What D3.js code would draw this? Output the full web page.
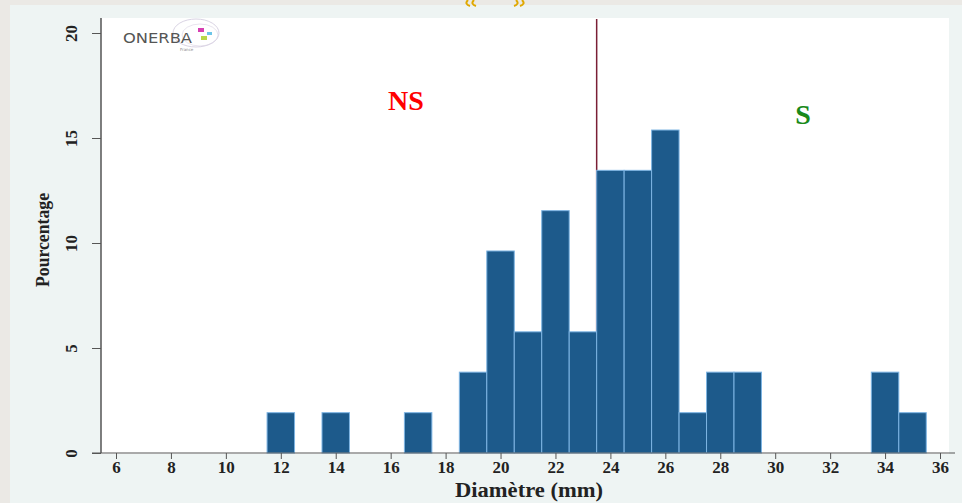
<!DOCTYPE html>
<html>
<head>
<meta charset="utf-8">
<script src="https://cdn.jsdelivr.net/npm/d3@7"></script>
<style>
  html, body { margin: 0; padding: 0; background: #ebe9e5; }
  svg { display: block; }
  .tick-label { font-family: "Liberation Serif", "DejaVu Serif", serif; font-weight: bold; font-size: 17px; fill: #222; }
</style>
</head>
<body>
<svg></svg>
<script>
const width = 962;
const height = 503;

// histogram bins (1 mm wide, centred on the diameter) and their percentage
const diameters = [12, 14, 17, 19, 20, 21, 22, 23, 24, 25, 26, 27, 28, 29, 34, 35];
const percentages = [1.92, 1.92, 1.92, 3.85, 9.62, 5.77, 11.54, 5.77, 13.46, 13.46, 15.38, 1.92, 3.85, 3.85, 3.85, 1.92];
const xTicks = [6, 8, 10, 12, 14, 16, 18, 20, 22, 24, 26, 28, 30, 32, 34, 36];
const yTicks = [0, 5, 10, 15, 20];
const cutoff = 23.5; // NS / S breakpoint

const svg = d3.select('svg').attr('width', width).attr('height', height);

// slide frame + panel
svg.append('rect').attr('x', 0).attr('y', 0).attr('width', width).attr('height', height).attr('fill', '#ebe9e5');
svg.append('rect').attr('x', 10).attr('y', 5).attr('width', width - 10).attr('height', height - 5).attr('fill', '#eef4f3');
svg.append('rect').attr('x', 101).attr('y', 18).attr('width', 848).attr('height', 436).attr('fill', '#ffffff');
// little yellow mark peeking at the top of the slide
const arcs = svg.append('g').attr('fill', 'none').attr('stroke', '#e0a800').attr('stroke-width', 2);
arcs.append('path').attr('d', 'M468,0 Q464,4 470,6');
arcs.append('path').attr('d', 'M474,0 Q470,4 476,6');
arcs.append('path').attr('d', 'M516,0 Q520,4 514,6');
arcs.append('path').attr('d', 'M522,0 Q526,4 520,6');

const x = d3.scaleLinear().domain([6, 36]).range([116, 940]);
const y = d3.scaleLinear().domain([0, 20]).range([453, 33]);

// cutoff line (behind bars)
svg.append('line')
    .attr('x1', x(cutoff)).attr('x2', x(cutoff))
    .attr('y1', 19).attr('y2', y(0))
    .attr('stroke', '#7a1f35').attr('stroke-width', 1.5);

const bins = diameters.map((d, i) => ({d, p: percentages[i]}));
svg.append('g').classed('bars', true)
    .selectAll('rect')
    .data(bins)
    .join('rect')
    .attr('x', d => x(d.d - 0.5))
    .attr('width', d => x(d.d + 0.5) - x(d.d - 0.5))
    .attr('y', d => y(d.p))
    .attr('height', d => y(0) - y(d.p))
    .attr('fill', '#1d5a8b')
    .attr('stroke', '#7db4e3')
    .attr('stroke-width', 1);

// x axis
const xAxis = svg.append('g').attr('transform', `translate(0,${y(0)})`)
    .call(d3.axisBottom(x).tickValues(xTicks).tickSize(6).tickSizeOuter(0).tickPadding(2));
xAxis.select('.domain').attr('d', `M92,0H955`).attr('stroke', '#555');
xAxis.selectAll('.tick line').attr('stroke', '#555');
xAxis.selectAll('.tick text').attr('class', 'tick-label');

// y axis
const yAxis = svg.append('g').attr('transform', 'translate(101,0)')
    .call(d3.axisLeft(y).tickValues(yTicks).tickSize(9).tickSizeOuter(0));
yAxis.select('.domain').attr('d', `M0,18V${y(0)}`).attr('stroke', '#555').attr('stroke-width', 1.5);
yAxis.selectAll('.tick line').attr('stroke', '#555');
yAxis.selectAll('.tick text')
    .attr('class', 'tick-label')
    .attr('x', null)
    .attr('text-anchor', 'middle')
    .attr('transform', 'translate(-30,0) rotate(-90)')
    .attr('dy', '0.35em');

// axis titles
svg.append('text')
    .attr('x', 529).attr('y', 497).attr('text-anchor', 'middle')
    .attr('textLength', 148).attr('lengthAdjust', 'spacingAndGlyphs')
    .style('font-family', 'Liberation Serif, serif').style('font-size', '20px').style('font-weight', 'bold').style('fill', '#222')
    .text('Diamètre (mm)');
svg.append('text')
    .attr('transform', 'translate(49,240) rotate(-90)').attr('text-anchor', 'middle')
    .attr('textLength', 94).attr('lengthAdjust', 'spacingAndGlyphs')
    .style('font-family', 'Liberation Serif, serif').style('font-size', '18px').style('font-weight', 'bold').style('fill', '#222')
    .text('Pourcentage');

// NS / S annotations
svg.append('text').attr('x', 406).attr('y', 110).attr('text-anchor', 'middle')
    .style('font-family', 'Liberation Serif, serif').style('font-size', '28px').style('font-weight', 'bold').style('fill', '#ff0000')
    .text('NS');
svg.append('text').attr('x', 803).attr('y', 124).attr('text-anchor', 'middle')
    .style('font-family', 'Liberation Serif, serif').style('font-size', '28px').style('font-weight', 'bold').style('fill', '#1a8a1a')
    .text('S');

// ONERBA logo
const logo = svg.append('g');
logo.append('ellipse').attr('cx', 196).attr('cy', 33).attr('rx', 23).attr('ry', 14)
    .attr('fill', 'none').attr('stroke', '#cfc8dc').attr('stroke-width', 0.8);
logo.append('ellipse').attr('cx', 200).attr('cy', 35).attr('rx', 18).attr('ry', 11)
    .attr('fill', 'none').attr('stroke', '#d8d2e2').attr('stroke-width', 0.6);
logo.append('text').attr('x', 123).attr('y', 43)
    .attr('textLength', 69).attr('lengthAdjust', 'spacingAndGlyphs')
    .style('font-family', 'DejaVu Sans, sans-serif').style('font-size', '14px').style('fill', '#555')
    .text('ONERBA');
logo.append('text').attr('x', 180).attr('y', 51)
    .style('font-family', 'DejaVu Sans, sans-serif').style('font-size', '4px').style('fill', '#888')
    .text('France');
logo.append('rect').attr('x', 198).attr('y', 28).attr('width', 6).attr('height', 4).attr('fill', '#d63fb2');
logo.append('rect').attr('x', 207).attr('y', 32).attr('width', 5).attr('height', 3).attr('fill', '#6cc5e8');
logo.append('rect').attr('x', 201).attr('y', 36).attr('width', 6).attr('height', 4).attr('fill', '#b8d84a');
</script>
</body>
</html>
